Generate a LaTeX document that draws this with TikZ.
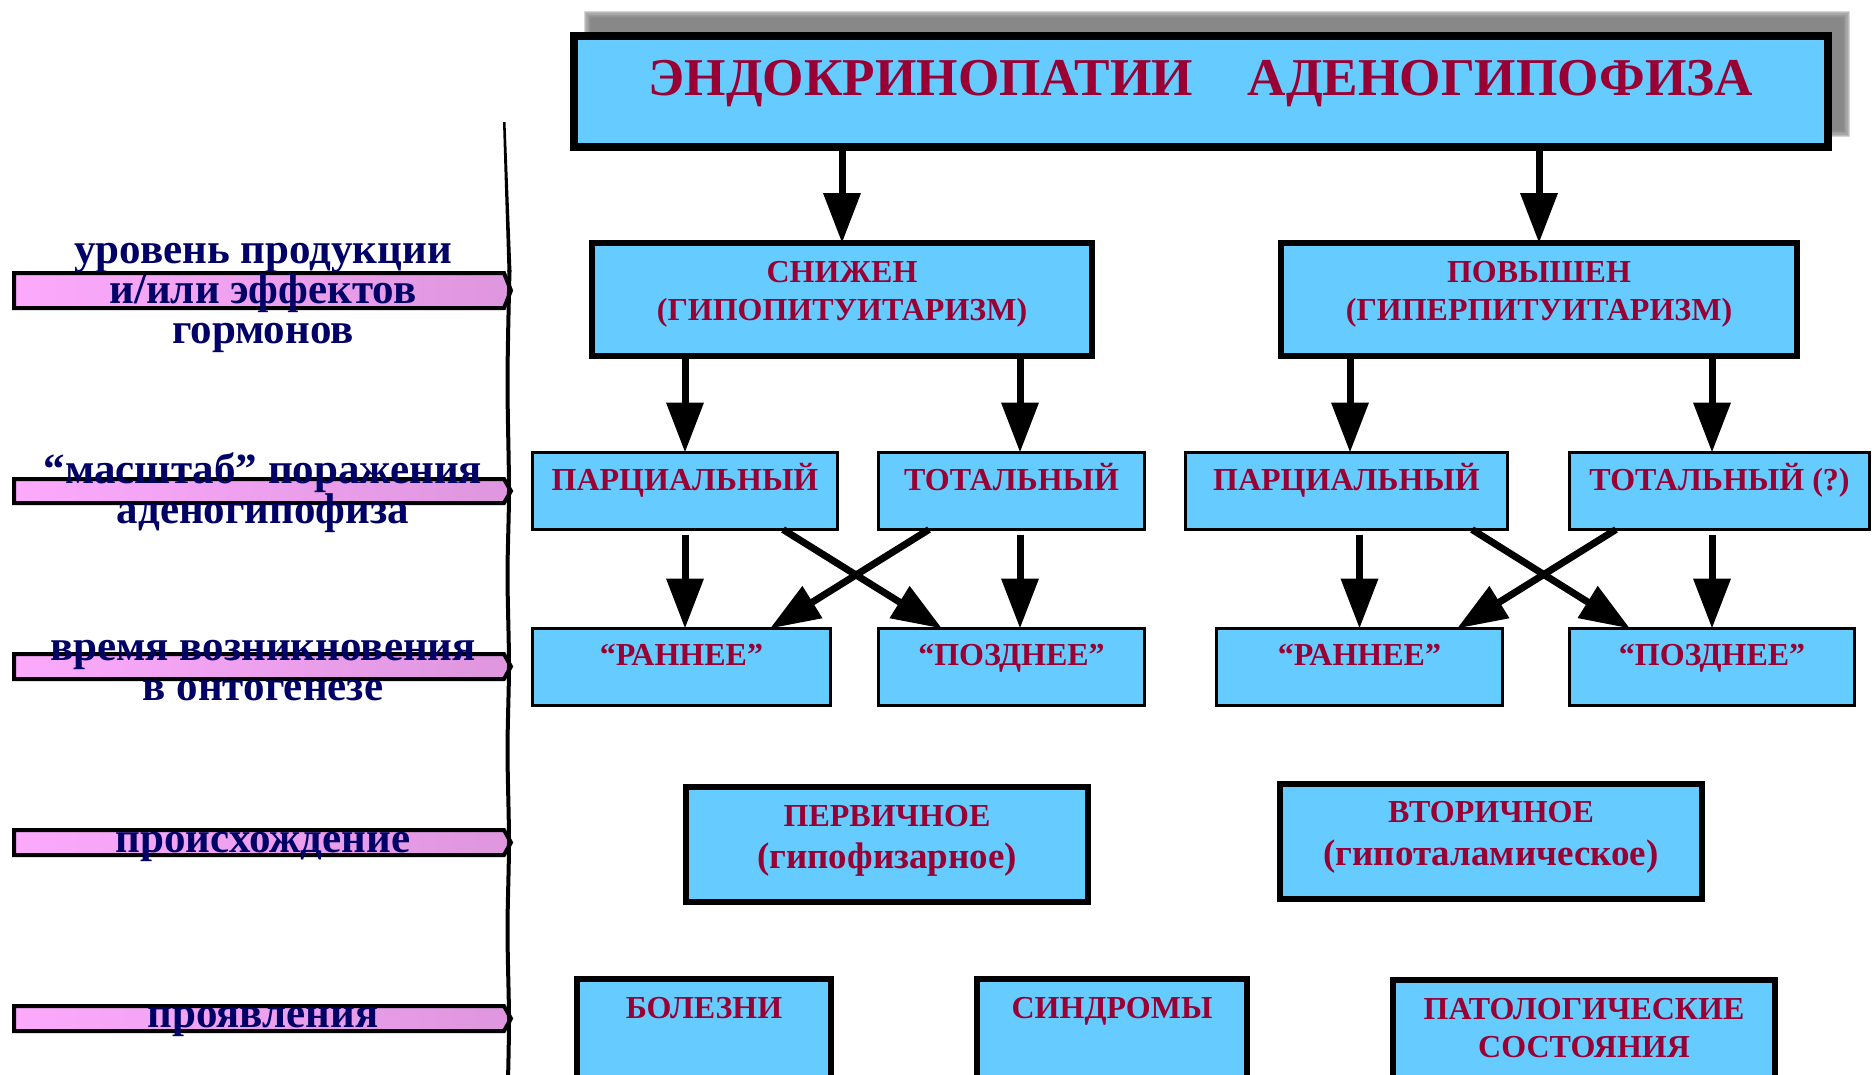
\documentclass[tikz,border=0pt]{standalone}
\usepackage{fontspec}
\setmainfont{Liberation Serif}
\usetikzlibrary{arrows.meta,positioning}
\definecolor{boxblue}{RGB}{102,204,255}
\definecolor{boxred}{RGB}{153,0,51}
\definecolor{navy}{RGB}{0,0,102}
\definecolor{pinkL}{RGB}{252,170,252}
\definecolor{pinkR}{RGB}{222,150,222}
\tikzset{>/.tip={Triangle[length=50pt,width=36pt]},
  bigbox/.style={draw, fill=boxblue, line width=6pt, inner sep=0pt, outer sep=0pt},
  smallbox/.style={draw, fill=boxblue, line width=3pt, inner sep=0pt, outer sep=0pt},
  btxt/.style={text=boxred, font=\bfseries\fontsize{32}{38}\selectfont, inner sep=0pt, anchor=base, align=flush center, text width=#1},
  ltxt/.style={text=navy, font=\bfseries\fontsize{43}{40}\selectfont, inner sep=0pt, anchor=base, align=flush center, text width=490pt},
  conn/.style={->, line width=7pt},
  levelbar/.style={draw, line width=4pt, left color=pinkL, right color=pinkR}}
\newcommand{\lowline}[1]{{\fontsize{37}{43}\selectfont #1}}

\begin{document}
\begin{tikzpicture}[x=1pt,y=-1pt]
\useasboundingbox (0,0) rectangle (1872,1074);
\clip (0,0) rectangle (1872,1074);

% left scale
\foreach \t/\b in {273/308,479/503,654/679,830/855,1006/1031}
  \path[levelbar] (14,\t) -- (504,\t) -- (511,{(\t+\b)/2}) -- (504,\b) -- (14,\b) -- cycle;
\fill (503,122) -- (505.5,122) -- (511.5,272) -- (507.5,272) -- cycle;
\draw[line width=4pt] plot[smooth] coordinates {(509.5,270) (507.5,380) (509,490) (507.5,575) (509,665) (507.5,750) (509,842) (507.5,930) (509,1018) (508,1080)};

\node[ltxt] (lvl1) at (263,263) {уровень продукции\\и/или эффектов\\гормонов};
\node[ltxt] (lvl2) at (263,483) {“масштаб” поражения\\аденогипофиза};
\node[ltxt] (lvl3) at (263,660) {время возникновения\\в онтогенезе};
\node[ltxt] (lvl4) at (263,852) {происхождение};
\node[ltxt] (lvl5) at (263,1027) {проявления};

% title with shadow
\foreach \i in {0,...,6}
  \fill[black!50, opacity=0.32] ({584+\i*1.2},{11+\i*1.2}) rectangle ({1850-\i*1.2},{137-\i*1.2});
\node[bigbox, line width=8pt, minimum width=1254pt, minimum height=111pt] (title) at (1201,91.5) {};
\node[btxt=1200pt, font=\bfseries\fontsize{53.2}{60}\selectfont] (title-t) at ([yshift=-59pt]title.north) {ЭНДОКРИНОПАТИИ\hspace{55pt}АДЕНОГИПОФИЗА};

% level of hormones
\node[bigbox, minimum width=500pt, minimum height=113pt] (hypo) at (842,299.5) {};
\node[bigbox, minimum width=516pt, minimum height=113pt] (hyper) at (1539,299.5) {};
\node[btxt=480pt] (hypo-t) at ([yshift=-39pt]hypo.north) {СНИЖЕН\\(ГИПОПИТУИТАРИЗМ)};
\node[btxt=490pt] (hyper-t) at ([yshift=-39pt]hyper.north) {ПОВЫШЕН\\(ГИПЕРПИТУИТАРИЗМ)};

% scale of damage
\node[smallbox, minimum width=305pt, minimum height=77pt] (partL) at (685,491) {};
\node[smallbox, minimum width=266pt, minimum height=77pt] (totL) at (1011.5,491) {};
\node[smallbox, minimum width=322pt, minimum height=77pt] (partR) at (1346.5,491) {};
\node[smallbox, minimum width=300pt, minimum height=77pt] (totR) at (1719.5,491) {};
\node[btxt=290pt] (partL-t) at ([yshift=-37.5pt]partL.north) {ПАРЦИАЛЬНЫЙ};
\node[btxt=250pt] (totL-t) at ([yshift=-37.5pt]totL.north) {ТОТАЛЬНЫЙ};
\node[btxt=300pt] (partR-t) at ([yshift=-37.5pt]partR.north) {ПАРЦИАЛЬНЫЙ};
\node[btxt=290pt] (totR-t) at ([yshift=-37.5pt]totR.north) {ТОТАЛЬНЫЙ (?)};

% time of onset
\node[smallbox, minimum width=298pt, minimum height=77pt] (earlyL) at (681.5,667) {};
\node[smallbox, minimum width=266pt, minimum height=77pt] (lateL) at (1011.5,667) {};
\node[smallbox, minimum width=286pt, minimum height=77pt] (earlyR) at (1359.5,667) {};
\node[smallbox, minimum width=285pt, minimum height=77pt] (lateR) at (1712,667) {};
\node[btxt=280pt] (earlyL-t) at ([yshift=-36.5pt]earlyL.north) {“РАННЕЕ”};
\node[btxt=250pt] (lateL-t) at ([yshift=-36.5pt]lateL.north) {“ПОЗДНЕЕ”};
\node[btxt=270pt] (earlyR-t) at ([yshift=-36.5pt]earlyR.north) {“РАННЕЕ”};
\node[btxt=270pt] (lateR-t) at ([yshift=-36.5pt]lateR.north) {“ПОЗДНЕЕ”};

% origin
\node[bigbox, minimum width=402pt, minimum height=115pt] (prim) at (887,844.5) {};
\node[bigbox, minimum width=422pt, minimum height=115pt] (sec) at (1491,841.5) {};
\node[btxt=380pt, font=\bfseries\fontsize{32}{42}\selectfont] (prim-t) at ([yshift=-39pt]prim.north) {ПЕРВИЧНОЕ\\\lowline{(гипофизарное)}};
\node[btxt=400pt, font=\bfseries\fontsize{32}{43}\selectfont] (sec-t) at ([yshift=-38pt]sec.north) {ВТОРИЧНОЕ\\\lowline{(гипоталамическое)}};

% manifestations
\node[bigbox, minimum width=254pt, minimum height=128pt] (dis) at (704,1043) {};
\node[bigbox, minimum width=270pt, minimum height=128pt] (syn) at (1112,1043) {};
\node[bigbox, minimum width=382pt, minimum height=127pt] (patho) at (1584,1043.5) {};
\node[btxt=240pt] (dis-t) at ([yshift=-39pt]dis.north) {БОЛЕЗНИ};
\node[btxt=250pt] (syn-t) at ([yshift=-39pt]syn.north) {СИНДРОМЫ};
\node[btxt=360pt] (patho-t) at ([yshift=-39pt]patho.north) {ПАТОЛОГИЧЕСКИЕ\\СОСТОЯНИЯ};

% arrows
\coordinate (totL-in) at ([xshift=8.5pt]totL.north);
\coordinate (totL-out) at ([xshift=8.5pt]totL.south);
\coordinate (partR-in) at ([xshift=3.5pt]partR.north);
\coordinate (totR-in) at ([xshift=-7.5pt]totR.north);
\draw[conn] (title.south -| hypo.north) -- (hypo.north);
\draw[conn] (title.south -| hyper.north) -- (hyper.north);
\draw[conn] (hypo.south -| partL.north) -- (partL.north);
\draw[conn] (hypo.south -| totL-in) -- (totL-in);
\draw[conn] (hyper.south -| partR-in) -- (partR-in);
\draw[conn] (hyper.south -| totR-in) -- (totR-in);
\draw[conn, shorten <=5pt] (partL.south) -- (partL.south |- earlyL.north);
\draw[conn, shorten <=5pt] (totL-out) -- (totL-out |- lateL.north);
\draw[conn, shorten <=5pt] (earlyR.north |- partR.south) -- (earlyR.north);
\draw[conn, shorten <=5pt] (lateR.north |- totR.south) -- (lateR.north);
\draw[conn] ([xshift=-54.5pt]partL.south east) -- ([xshift=63.5pt]lateL.north west);
\draw[conn] ([xshift=50.5pt]totL.south west) -- ([xshift=-60.5pt]earlyL.north east);
\draw[conn] ([xshift=-35.5pt]partR.south east) -- ([xshift=60.5pt]lateR.north west);
\draw[conn] ([xshift=46.5pt]totR.south west) -- ([xshift=-45.5pt]earlyR.north east);
\end{tikzpicture}
\end{document}
